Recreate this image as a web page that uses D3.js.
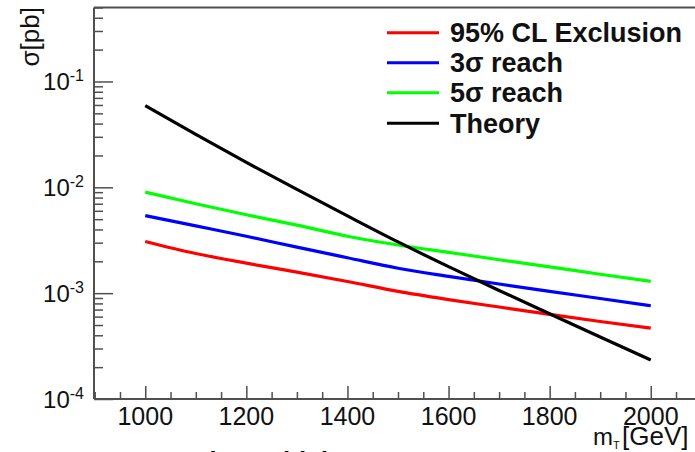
<!DOCTYPE html>
<html>
<head>
<meta charset="utf-8">
<script src="https://cdn.jsdelivr.net/npm/d3@7"></script>
<style>
  html, body { margin: 0; padding: 0; background: #fff; overflow: hidden; }
  svg { display: block; font-family: "Liberation Sans", Arial, Helvetica, sans-serif; }
</style>
</head>
<body>
<svg id="chart" width="695" height="452"></svg>
<script>
// ---- data ----
const massGeV = [1000, 1100, 1200, 1300, 1400, 1500, 1600, 1700, 1800, 1900, 2000];
const exclusion95 = [0.00308, 0.00237, 0.00192, 0.00158, 0.00129, 0.00104, 0.00087, 0.00074, 0.00063, 0.00054, 0.000467];
const reach3sigma = [0.0054, 0.00432, 0.00345, 0.00272, 0.00216, 0.00172, 0.00144, 0.00122, 0.00104, 0.00089, 0.00076];
const reach5sigma = [0.0090, 0.0070, 0.0055, 0.0044, 0.00345, 0.00285, 0.00243, 0.00207, 0.00177, 0.00151, 0.00129];
const theory = [0.0592, 0.0316, 0.01718, 0.00955, 0.00537, 0.00305, 0.00178, 0.00106, 0.000638, 0.000385, 0.000234];

const seriesNames = ["95% CL Exclusion", "3\u03c3 reach", "5\u03c3 reach", "Theory"];
const seriesColors = ["#ff0000", "#0000ff", "#00ff00", "#000000"];

const xTickValues = [1000, 1200, 1400, 1600, 1800, 2000];
const xTickLabels = ["1000", "1200", "1400", "1600", "1800", "2000"];
const yTickValues = [1e-4, 1e-3, 1e-2, 1e-1];
const yTickExponents = ["-4", "-3", "-2", "-1"];

// ---- layout ----
const svg = d3.select("#chart");
svg.append("rect").attr("width", 695).attr("height", 452).attr("fill", "#fff");

const x = d3.scaleLinear().domain([900, 2100]).range([94.7, 701.3]);
const y = d3.scaleLog().domain([1e-4, 0.5]).range([399, 7.5]);

const axisColor = "#505050";

// minor x ticks every 50
const xMinor = d3.range(900, 2101, 50).filter(v => v % 200 !== 0);
const xMajor = d3.range(800, 2101, 200).filter(v => v >= 900);

svg.append("g").attr("transform", "translate(0,399)")
  .call(d3.axisTop(x).tickValues(xMinor).tickSize(7).tickFormat(""))
  .call(g => g.select(".domain").remove())
  .selectAll("line").attr("stroke", axisColor).attr("stroke-width", 1.5);
svg.append("g").attr("transform", "translate(0,399)")
  .call(d3.axisTop(x).tickValues(xMajor).tickSize(13).tickFormat(""))
  .call(g => g.select(".domain").remove())
  .selectAll("line").attr("stroke", axisColor).attr("stroke-width", 1.5);

// minor y ticks
const yMinor = [];
[1e-4, 1e-3, 1e-2, 1e-1].forEach(d => { for (let k = 2; k <= 9; k++) { const v = d * k; if (v <= 0.5) yMinor.push(v); } });
svg.append("g").attr("transform", "translate(94,0)")
  .call(d3.axisRight(y).tickValues(yMinor).tickSize(9).tickFormat(""))
  .call(g => g.select(".domain").remove())
  .selectAll("line").attr("stroke", axisColor).attr("stroke-width", 1.5);
svg.append("g").attr("transform", "translate(94,0)")
  .call(d3.axisRight(y).tickValues(yTickValues).tickSize(19).tickFormat(""))
  .call(g => g.select(".domain").remove())
  .selectAll("line").attr("stroke", axisColor).attr("stroke-width", 1.5);

// frame lines
svg.append("line").attr("x1", 94).attr("x2", 94).attr("y1", 7.5).attr("y2", 399)
  .attr("stroke", axisColor).attr("stroke-width", 2);
svg.append("line").attr("x1", 94).attr("x2", 702).attr("y1", 399).attr("y2", 399)
  .attr("stroke", axisColor).attr("stroke-width", 2);
svg.append("line").attr("x1", 94).attr("x2", 702).attr("y1", 7.5).attr("y2", 7.5)
  .attr("stroke", axisColor).attr("stroke-width", 2);

// x tick labels
svg.append("g").selectAll("text").data(xTickValues).join("text")
  .attr("x", d => x(d)).attr("y", 425)
  .attr("text-anchor", "middle").attr("font-size", 25).attr("fill", "#111")
  .text((d, i) => xTickLabels[i]);

// y tick labels with superscript
const yl = svg.append("g").selectAll("text").data(yTickValues).join("text")
  .attr("x", 84).attr("y", d => y(d) + 9)
  .attr("text-anchor", "end").attr("fill", "#111");
yl.append("tspan").attr("font-size", 24).text("10");
yl.append("tspan").attr("font-size", 16).attr("dy", -9).text((d, i) => yTickExponents[i]);

// axis titles
svg.append("text").attr("transform", "translate(39,7) rotate(-90)")
  .attr("text-anchor", "end").attr("font-size", 26).attr("fill", "#111").text("\u03c3[pb]");
const xt = svg.append("text").attr("x", 593).attr("y", 445).attr("font-size", 24).attr("fill", "#111");
xt.append("tspan").text("m");
xt.append("tspan").attr("font-size", 11).attr("dy", 4).text("T");
xt.append("tspan").attr("x", 622).attr("dy", -4).attr("font-size", 26).text("[GeV]");

// curves
const series = [exclusion95, reach3sigma, reach5sigma, theory];
const line = d3.line().x((d, i) => x(massGeV[i])).y(d => y(d)).curve(d3.curveMonotoneX);
series.forEach((vals, k) => {
  svg.append("path").datum(vals).attr("d", line)
    .attr("fill", "none").attr("stroke", seriesColors[k]).attr("stroke-width", 3.2)
    .attr("stroke-linejoin", "round");
});

// legend
const legendY = [32.7, 62.7, 92.7, 123.3];
const lg = svg.append("g");
seriesNames.forEach((name, k) => {
  lg.append("line").attr("x1", 387).attr("x2", 439).attr("y1", legendY[k]).attr("y2", legendY[k])
    .attr("stroke", seriesColors[k]).attr("stroke-width", 3);
  lg.append("text").attr("x", 450).attr("y", legendY[k] + 9.5)
    .attr("font-size", 27).attr("font-weight", "bold").attr("fill", "#111").text(name);
});

// partially visible slide caption below the chart
svg.append("text").attr("x", 101).attr("y", 470).attr("font-size", 26).attr("font-weight", "bold")
  .attr("fill", "#000").text("Expected sensitivity");
</script>
</body>
</html>
